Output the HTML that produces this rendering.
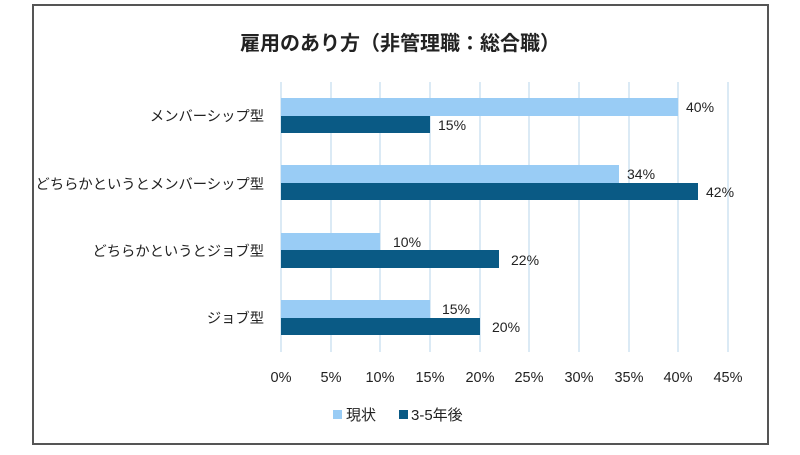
<!DOCTYPE html>
<html><head><meta charset="utf-8"><style>
body{margin:0;background:#fff;width:800px;height:450px;overflow:hidden;font-family:"Liberation Sans","Noto Sans CJK JP",sans-serif;}
</style></head><body>
<svg width="800" height="450" xmlns="http://www.w3.org/2000/svg" font-family="Liberation Sans, Noto Sans CJK JP, sans-serif">
<rect x="33" y="5" width="735" height="439" fill="#fff" stroke="#555" stroke-width="2"/>
<text x="400" y="50" text-anchor="middle" font-size="20" font-weight="bold" fill="#222">雇用のあり方（非管理職：総合職）</text>
<g stroke="#cfe3f2" stroke-width="1.5">
<line x1="281" y1="82" x2="281" y2="352"/><line x1="331" y1="82" x2="331" y2="352"/><line x1="380" y1="82" x2="380" y2="352"/><line x1="430" y1="82" x2="430" y2="352"/><line x1="480" y1="82" x2="480" y2="352"/><line x1="529" y1="82" x2="529" y2="352"/><line x1="579" y1="82" x2="579" y2="352"/><line x1="629" y1="82" x2="629" y2="352"/><line x1="678" y1="82" x2="678" y2="352"/><line x1="728" y1="82" x2="728" y2="352"/>
</g>
<g fill="#99ccf5">
<rect x="281" y="98" width="397" height="18"/>
<rect x="281" y="165" width="338" height="18"/>
<rect x="281" y="233" width="99" height="17"/>
<rect x="281" y="300" width="149" height="18"/>
</g>
<g fill="#0a5a85">
<rect x="281" y="116" width="149" height="17"/>
<rect x="281" y="183" width="417" height="17"/>
<rect x="281" y="250" width="218" height="18"/>
<rect x="281" y="318" width="199" height="17"/>
</g>
<g font-size="14" fill="#222">
<text x="686" y="112">40%</text><text x="438" y="130">15%</text>
<text x="627" y="179">34%</text><text x="706" y="197">42%</text>
<text x="393" y="247">10%</text><text x="511" y="265">22%</text>
<text x="442" y="314">15%</text><text x="492" y="332">20%</text>
</g>
<g font-size="14.3" fill="#222" text-anchor="end">
<text x="264" y="121">メンバーシップ型</text>
<text x="264" y="189">どちらかというとメンバーシップ型</text>
<text x="264" y="256">どちらかというとジョブ型</text>
<text x="264" y="323">ジョブ型</text>
</g>
<g font-size="14.5" fill="#222" text-anchor="middle">
<text x="281" y="382">0%</text><text x="331" y="382">5%</text><text x="380" y="382">10%</text><text x="430" y="382">15%</text><text x="480" y="382">20%</text><text x="529" y="382">25%</text><text x="579" y="382">30%</text><text x="629" y="382">35%</text><text x="678" y="382">40%</text><text x="728" y="382">45%</text>
</g>
<rect x="333" y="410" width="9" height="9" fill="#99ccf5"/>
<text x="346" y="420" font-size="15" fill="#222">現状</text>
<rect x="399" y="410" width="9" height="9" fill="#0a5a85"/>
<text x="411" y="420" font-size="15" fill="#222">3-5年後</text>
</svg>
</body></html>
